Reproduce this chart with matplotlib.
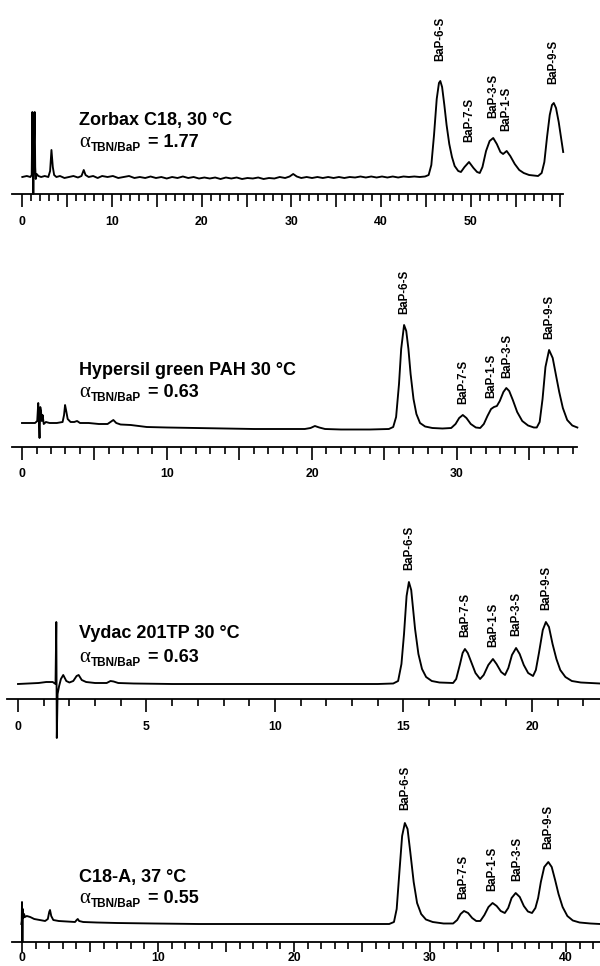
import numpy as np
import matplotlib.pyplot as plt

plt.rcParams['font.family'] = ['Liberation Sans', 'DejaVu Sans']

# ---- data: (time / min, signal above baseline) ----
p1_trace = [
    (0.0, 0), (0.5, 1), (0.9, 0), (1.05, 2), (1.12, 65), (1.18, 20), (1.23, -17), (1.3, 30),
    (1.38, 65), (1.44, 10), (1.5, -2), (1.6, 3), (1.8, 1), (2.1, 0), (2.5, 1), (2.9, 0),
    (3.1, 6), (3.25, 27), (3.4, 10), (3.55, 2), (3.8, 0), (4.2, 1), (4.7, -1), (5.2, 0),
    (5.7, 1), (6.2, -0.5), (6.6, 1), (6.85, 7), (7.05, 2), (7.4, 0), (7.9, 1), (8.4, -1),
    (8.9, 1), (9.5, 0), (10.1, 1), (10.7, -1), (11.3, 0), (11.9, 1), (12.5, -1), (13.1, 0),
    (13.7, -1), (14.3, 0.5), (14.9, -1), (15.5, 0), (16.1, -1.5), (16.7, 0), (17.3, -1),
    (17.9, 0.5), (18.5, -1), (19.1, 0), (19.7, -1.5), (20.3, -0.5), (20.9, -1.5), (21.5, -0.5),
    (22.1, -2), (22.7, -0.5), (23.3, -1.5), (23.9, -0.5), (24.5, -2), (25.1, -1), (25.7, -1.5),
    (26.3, -0.5), (26.9, -2), (27.5, -1), (28.1, -1.5), (28.7, 0), (29.3, -1), (29.8, 0.5),
    (30.2, 3), (30.6, 0.5), (31.1, -1), (31.7, 0), (32.3, -1), (32.9, 0), (33.5, -1), (34.1, 0),
    (34.7, -1), (35.3, 0), (35.9, -1), (36.5, 0), (37.1, -0.5), (37.7, 0.5), (38.3, -0.5),
    (38.9, 0.5), (39.5, -0.5), (40.1, 0.5), (40.7, -0.5), (41.3, 0.5), (41.9, -0.5), (42.5, 0.5),
    (43.1, 0), (43.7, 0.5), (44.3, 0), (44.9, 0.5), (45.3, 2), (45.6, 12), (45.9, 42), (46.2, 78),
    (46.45, 94), (46.6, 96), (46.8, 90), (47.05, 72), (47.3, 52), (47.6, 33), (47.9, 20),
    (48.2, 11), (48.6, 6), (48.9, 5), (49.3, 10), (49.8, 15), (50.3, 9), (50.7, 5), (51.0, 4),
    (51.3, 10), (51.7, 26), (52.1, 36), (52.5, 39), (52.9, 33), (53.3, 25), (53.6, 23),
    (54.0, 26), (54.4, 21), (54.9, 13), (55.4, 7), (55.9, 4), (56.5, 2), (57.0, 1.5), (57.5, 1),
    (57.9, 4), (58.2, 15), (58.5, 40), (58.8, 62), (59.05, 72), (59.25, 74), (59.5, 69),
    (59.8, 55), (60.05, 40), (60.3, 25),
]
p1_peaks = ["BaP-6-S", "BaP-7-S", "BaP-3-S", "BaP-1-S", "BaP-9-S"]
p1_rt = [46.6, 49.8, 52.5, 54.0, 59.2]
p1_ticklabels = [0, 10, 20, 30, 40, 50]
p1_title = "Zorbax C18, 30 \u00b0C"
p1_alpha = "1.77"

p2_trace = [
    (0.0, 6), (0.5, 6), (0.9, 6), (1.05, 8), (1.12, 26), (1.17, 5), (1.21, -9), (1.26, 22),
    (1.31, 18), (1.36, 8), (1.42, 14), (1.5, 5), (1.65, 7), (1.9, 6), (2.4, 6), (2.8, 7),
    (2.9, 14), (2.97, 24), (3.05, 18), (3.15, 10), (3.35, 7), (3.6, 7), (3.8, 8), (4.0, 6),
    (4.6, 6), (5.3, 5), (5.9, 5), (6.1, 7), (6.3, 9), (6.5, 6), (6.8, 4.5), (7.5, 4), (8.6, 2),
    (10.0, 1.5), (12.0, 1), (14.0, 0.5), (16.0, 0), (19.5, 0), (19.9, 1), (20.2, 3), (20.5, 1.5),
    (20.9, 0), (22.0, -0.5), (24.0, -0.5), (25.3, 0), (25.6, 2), (25.8, 12), (26.0, 45),
    (26.15, 80), (26.35, 104), (26.5, 98), (26.65, 80), (26.8, 55), (27.0, 30), (27.2, 15),
    (27.45, 6), (27.8, 2.5), (28.3, 1), (29.0, 0.5), (29.6, 1), (29.9, 5), (30.15, 11),
    (30.4, 14), (30.65, 11), (30.95, 5), (31.3, 1.5), (31.6, 1), (31.85, 5), (32.1, 13),
    (32.35, 20), (32.55, 22), (32.75, 23), (32.95, 28), (33.2, 37), (33.4, 41), (33.6, 38),
    (33.85, 29), (34.15, 17), (34.5, 8), (34.9, 3.5), (35.3, 1.5), (35.5, 1.5), (35.7, 7),
    (35.9, 30), (36.1, 62), (36.35, 79), (36.6, 71), (36.85, 52), (37.05, 37), (37.3, 21),
    (37.6, 9), (37.95, 3.5), (38.3, 1.5),
]
p2_peaks = ["BaP-6-S", "BaP-7-S", "BaP-1-S", "BaP-3-S", "BaP-9-S"]
p2_rt = [26.35, 30.4, 32.35, 33.5, 36.35]
p2_ticklabels = [0, 10, 20, 30]
p2_title = "Hypersil green PAH 30 \u00b0C"
p2_alpha = "0.63"

p3_trace = [
    (0.0, 0), (0.8, 1), (1.1, 2), (1.35, 2), (1.46, 0), (1.49, 62), (1.51, -54), (1.54, -10),
    (1.6, -2), (1.67, 5), (1.76, 9), (1.88, 3), (2.0, 1.5), (2.15, 3), (2.28, 8), (2.36, 9),
    (2.48, 4), (2.65, 2), (3.0, 1), (3.45, 1), (3.6, 3), (3.72, 2.5), (3.9, 1), (4.5, 0.5),
    (6.0, 0), (9.0, 0), (14.0, 0), (14.6, 0.5), (14.79, 3), (14.92, 20), (15.02, 50),
    (15.12, 88), (15.21, 102), (15.3, 94), (15.45, 55), (15.58, 30), (15.72, 15), (15.88, 7),
    (16.1, 3), (16.4, 1.5), (16.93, 1), (17.05, 5), (17.2, 20), (17.3, 31), (17.39, 35),
    (17.5, 31), (17.65, 21), (17.8, 11), (17.98, 5), (18.12, 9), (18.3, 19), (18.48, 25),
    (18.62, 20), (18.8, 12), (18.95, 9), (19.08, 16), (19.22, 29), (19.38, 36), (19.52, 30),
    (19.68, 19), (19.85, 11), (20.04, 8), (20.15, 14), (20.27, 31), (20.42, 54), (20.54, 62),
    (20.66, 57), (20.8, 40), (20.95, 25), (21.1, 14), (21.3, 7), (21.55, 3), (21.9, 1.5),
    (22.65, 0.5),
]
p3_peaks = ["BaP-6-S", "BaP-7-S", "BaP-1-S", "BaP-3-S", "BaP-9-S"]
p3_rt = [15.21, 17.39, 18.48, 19.38, 20.54]
p3_ticklabels = [0, 5, 10, 15, 20]
p3_title = "Vydac 201TP 30 \u00b0C"
p3_alpha = "0.63"

p4_trace = [
    (-0.05, 0), (-0.02, 3), (0.0, 22), (0.03, -18), (0.06, 15), (0.1, 6), (0.15, 10), (0.22, 7),
    (0.35, 8), (0.6, 7), (0.9, 5), (1.3, 4), (1.7, 3), (1.9, 5), (2.0, 12), (2.06, 14),
    (2.15, 8), (2.3, 4), (2.7, 3), (3.3, 2.5), (3.9, 2), (4.02, 4), (4.1, 5), (4.2, 3), (4.5, 2),
    (5.5, 1.5), (7.0, 1), (9.7, 0.5), (13.0, 0), (20.0, 0), (27.0, 0), (27.35, 2), (27.55, 15),
    (27.75, 52), (27.95, 88), (28.15, 101), (28.35, 95), (28.55, 72), (28.8, 42), (29.05, 21),
    (29.35, 10), (29.7, 4.5), (30.2, 2), (31.0, 0.5), (31.7, 0.5), (32.0, 4), (32.25, 10),
    (32.5, 13), (32.8, 11), (33.1, 6), (33.4, 3), (33.7, 3), (34.0, 9), (34.3, 17), (34.6, 21),
    (34.9, 18), (35.2, 13), (35.5, 11), (35.75, 16), (36.0, 26), (36.3, 31), (36.6, 27),
    (36.9, 18), (37.2, 12.5), (37.5, 11), (37.75, 16), (37.95, 26), (38.15, 42), (38.4, 57),
    (38.7, 62), (38.95, 57), (39.2, 44), (39.45, 30), (39.75, 17), (40.1, 8), (40.5, 3.5),
    (41.0, 1.5), (41.8, 0.5), (42.5, 0),
]
p4_peaks = ["BaP-6-S", "BaP-7-S", "BaP-1-S", "BaP-3-S", "BaP-9-S"]
p4_rt = [28.15, 32.45, 34.55, 36.4, 38.7]
p4_ticklabels = [0, 10, 20, 30, 40]
p4_title = "C18-A, 37 \u00b0C"
p4_alpha = "0.55"

# ---- layout (pixels in the 600 x 966 image) ----
W, H = 600, 966
panels = [
    # trace, peaks, rt, labels, title, alpha, x0, px/min, tmin, tmax, axis_y, base_y, top_y,
    # label gap, tick length, tick pad, title_y, alpha_y
    (p1_trace, p1_peaks, p1_rt, p1_ticklabels, p1_title, p1_alpha, 22.3, 8.97, -1.15, 60.3,
     194, 177, 10, 20, 9.5, 6.0, 125, 147),
    (p2_trace, p2_peaks, p2_rt, p2_ticklabels, p2_title, p2_alpha, 22.0, 14.5, -0.7, 38.3,
     446.5, 429, 262, 11, 9.5, 6.0, 375, 397),
    (p3_trace, p3_peaks, p3_rt, p3_ticklabels, p3_title, p3_alpha, 18.0, 25.7, -0.44, 22.65,
     698.5, 684, 515, 12, 9.5, 7.0, 638, 662),
    (p4_trace, p4_peaks, p4_rt, p4_ticklabels, p4_title, p4_alpha, 22.0, 13.6, -0.74, 42.5,
     942, 924, 760, 13, 7.5, 0.0, 882, 903),
]

fig = plt.figure(figsize=(W / 100, H / 100), dpi=100)

for (trace, peaks, rt, ticklabels, title, alpha, x0, ppm, tmin, tmax,
     axis_y, base_y, top_y, gap, ticklen, pad, title_y, alpha_y) in panels:
    left = x0 + tmin * ppm
    right = x0 + tmax * ppm
    ax = fig.add_axes([left / W, 1 - axis_y / H, (right - left) / W, (axis_y - top_y) / H])
    ax.set_xlim(tmin, tmax)
    ax.set_ylim(-(axis_y - base_y), base_y - top_y)
    ax.patch.set_visible(False)

    t, s = np.array(trace).T
    ax.plot(t, s, color="black", lw=1.35, clip_on=False)

    for name, r in zip(peaks, rt):
        ax.text(r, np.interp(r, t, s) + gap, name, rotation=90, ha="center", va="bottom",
                fontsize=8.3, fontweight="bold")

    for side in ["left", "right", "top"]:
        ax.spines[side].set_visible(False)
    ax.spines["bottom"].set_linewidth(1.3)
    ax.set_yticks([])

    major = np.arange(0, tmax + 1e-6, 5)
    minor = np.arange(0, tmax + 1e-6, 1)
    ax.set_xticks(major)
    ax.set_xticklabels([str(int(v)) if int(v) in ticklabels else "" for v in major],
                       fontsize=8.8, fontweight="bold")
    ax.set_xticks(minor, minor=True)
    ax.tick_params(axis="x", which="major", length=ticklen, width=1.2, pad=pad)
    ax.tick_params(axis="x", which="minor", length=5, width=1.2)

    fig.text(79 / W, 1 - title_y / H, title, fontsize=13, fontweight="bold", va="baseline")
    fig.text(79 / W, 1 - alpha_y / H, "\u03b1", family=["Liberation Serif", "DejaVu Serif"],
             fontsize=15, va="baseline")
    fig.text(91 / W, 1 - (alpha_y + 4) / H, "TBN/BaP", fontsize=8.5, fontweight="bold",
             va="baseline")
    fig.text(148 / W, 1 - alpha_y / H, "= " + alpha, fontsize=13, fontweight="bold",
             va="baseline")

plt.savefig("out.png", dpi=100)
